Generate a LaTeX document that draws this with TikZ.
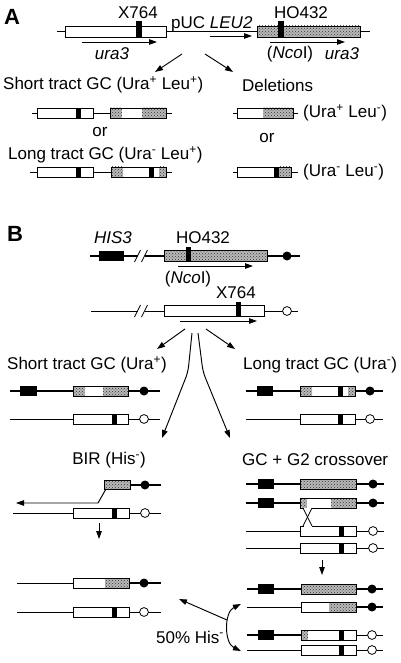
\documentclass[tikz,border=0pt]{standalone}
\usepackage{fontspec}
\setmainfont{Liberation Sans}
\usetikzlibrary{arrows.meta,patterns}
\newcommand\wbox[4]{\filldraw[boxst] (#1,#2) rectangle (#3,#4);}
\newcommand\hatchpart[4]{\path[hatchfill] (#1,#2) rectangle (#3,#4);}
\newcommand\blk[4]{\fill (#1,#2) rectangle (#3,#4);}
\newcommand\outl[4]{\draw[boxedge] (#1,#2) rectangle (#3,#4);}
\newcommand\fcirc[2]{\fill (#1,#2) circle (4.5pt);}
\newcommand\ocirc[2]{\filldraw[fill=white,line width=0.8pt] (#1,#2) circle (4.4pt);}
\begin{document}
\begin{tikzpicture}[x=1pt,y=-1pt,
  lbl/.style={inner sep=0pt, font=\fontsize{17}{20}\selectfont},
  panel/.style={inner sep=0pt, font=\fontsize{22}{24}\selectfont\bfseries},
  thinchr/.style={line width=0.9pt},
  thickchr/.style={line width=2.8pt},
  boxst/.style={fill=white, line width=0.8pt},
  boxedge/.style={line width=0.8pt},
  hatchfill/.style={fill=gray!55, postaction={pattern=crosshatch dots, pattern color=gray!40!black}},
  arr/.style={line width=0.95pt, -{Triangle[length=8pt,width=5.5pt]}},
  dblarr/.style={line width=0.95pt, {Triangle[length=8pt,width=5.5pt]}-{Triangle[length=8pt,width=5.5pt]}},
  brk/.style={line width=0.8pt}
]
\useasboundingbox (0,0) rectangle (400,663);
\fill[white] (0,0) rectangle (400,663);

%% ---------------- Panel A ----------------
\node[panel] (pA) at (12,17) {A};
\draw[thinchr] (57,31.5) -- (370,31.5);
\wbox{65}{26}{166}{37}
\blk{136}{21}{142}{37}
\wbox{257}{26}{360}{37}
\hatchpart{257}{26}{360}{37}
\outl{257}{26}{360}{37}
\blk{278}{21}{284}{37}
\node[lbl] (xa) at (138,13) {X764};
\node[lbl] (hoa) at (301,13) {HO432};
\node[lbl,anchor=west] (puc) at (171,24) {pUC \textit{LEU2}};
\coordinate (leuS) at (210,36); \coordinate (leuE) at (252,36);
\draw[arr] (leuS) -- (leuE);
\coordinate (ua1) at (82,42); \coordinate (ua2) at (157,42);
\draw[arr] (ua1) -- (ua2);
\coordinate (ub1) at (270,42); \coordinate (ub2) at (345,42);
\draw[arr] (ub1) -- (ub2);
\node[lbl] (uraL) at (112,54) {\textit{ura3}};
\node[lbl] (ncoA) at (290,54) {(\textit{Nco}I)};
\node[lbl] (uraR) at (342,54) {\textit{ura3}};
\coordinate (da0) at (182,54); \coordinate (da1) at (155,72);
\coordinate (db0) at (205,54); \coordinate (db1) at (233,72);
\draw[arr] (da0) -- (da1);
\draw[arr] (db0) -- (db1);
\node[lbl,anchor=west] (stA) at (3,85) {Short tract GC (Ura\textsuperscript{+} Leu\textsuperscript{+})};
\node[lbl,anchor=west] (del) at (242,85) {Deletions};
% short tract row
\draw[thinchr] (32,113) -- (172,113);
\wbox{37}{108}{93}{118} \blk{76}{108}{81}{118}
\wbox{110}{108}{166}{118}
\hatchpart{110}{108}{122}{118} \hatchpart{142}{108}{166}{118}
\outl{110}{108}{166}{118}
\node[lbl] (orL) at (100,132) {or};
\node[lbl,anchor=west] (ltA) at (8,155) {Long tract GC (Ura\textsuperscript{-} Leu\textsuperscript{+})};
% long tract row
\draw[thinchr] (30,172) -- (172,172);
\wbox{37}{167}{93}{177} \blk{76}{167}{81}{177}
\wbox{111}{167}{166}{177}
\hatchpart{111}{167}{123}{177} \hatchpart{159}{167}{166}{177}
\blk{149}{167}{154}{177}
\outl{111}{167}{166}{177}
% deletions
\draw[thinchr] (233,113) -- (298,113);
\wbox{237}{108}{293}{118}
\hatchpart{263}{108}{293}{118}
\outl{237}{108}{293}{118}
\node[lbl,anchor=west] (d1) at (303,113) {(Ura\textsuperscript{+} Leu\textsuperscript{-})};
\node[lbl] (orR) at (267,138) {or};
\draw[thinchr] (233,172) -- (298,172);
\wbox{237}{167}{291}{177}
\hatchpart{279}{167}{291}{177}
\blk{274}{167}{279}{177}
\outl{237}{167}{291}{177}
\node[lbl,anchor=west] (d2) at (303,172) {(Ura\textsuperscript{-} Leu\textsuperscript{-})};

%% ---------------- Panel B ----------------
\node[panel] (pB) at (15,234) {B};
\node[lbl] (his) at (113,238) {\textit{HIS3}};
\node[lbl] (hob) at (203,238) {HO432};
% donor chromosome
\draw[thickchr] (90,256) -- (137.5,256);
\draw[thickchr] (144.5,256) -- (300,256);
\draw[brk] (134.5,262) -- (140.5,250);
\draw[brk] (141.5,262) -- (147.5,250);
\blk{99}{251}{124}{261}
\wbox{164}{250}{267}{261}
\hatchpart{164}{250}{267}{261}
\outl{164}{250}{267}{261}
\blk{186}{247}{191}{261}
\fcirc{287}{256}
\coordinate (nb1) at (178,266); \coordinate (nb2) at (253,266);
\draw[arr] (nb1) -- (nb2);
\node[lbl] (ncoB) at (188,279) {(\textit{Nco}I)};
\node[lbl] (xb) at (236,293) {X764};
% recipient chromosome
\draw[thinchr] (91,311) -- (137.5,311);
\draw[thinchr] (144.5,311) -- (298,311);
\draw[brk] (134.5,317) -- (140.5,305);
\draw[brk] (141.5,317) -- (147.5,305);
\wbox{164}{305}{264}{316}
\blk{236}{302}{241}{316}
\ocirc{287}{311}
\coordinate (xb1) at (180,321); \coordinate (xb2) at (257,321);
\draw[arr] (xb1) -- (xb2);
% four outcome arrows
\coordinate (o1a) at (185,329); \coordinate (o1b) at (157,349);
\coordinate (o2a) at (206,329); \coordinate (o2b) at (235,349);
\draw[arr] (o1a) -- (o1b);
\draw[arr] (o2a) -- (o2b);
\coordinate (c1a) at (192,333); \coordinate (c1m) at (188,372); \coordinate (c1b) at (162,438);
\coordinate (c2a) at (198,333); \coordinate (c2m) at (203,372); \coordinate (c2b) at (230,438);
\draw[arr,rounded corners=6pt] (c1a) -- (c1m) -- (c1b);
\draw[arr,rounded corners=6pt] (c2a) -- (c2m) -- (c2b);
\node[lbl,anchor=west] (stB) at (7,365) {Short tract GC (Ura\textsuperscript{+})};
\node[lbl,anchor=west] (ltB) at (243,365) {Long tract GC (Ura\textsuperscript{-})};
% short tract B
\draw[thickchr] (10,391) -- (160,391);
\blk{20}{386}{37}{396}
\wbox{73}{386}{128}{396}
\hatchpart{73}{386}{85}{396} \hatchpart{103}{386}{128}{396}
\outl{73}{386}{128}{396}
\fcirc{144}{391}
\draw[thinchr] (10,419) -- (160,419);
\wbox{73}{414}{128}{424} \blk{112}{414}{117}{424}
\ocirc{144}{419}
% long tract B
\draw[thickchr] (246,391) -- (383,391);
\blk{257}{386}{273}{396}
\wbox{300}{386}{355}{396}
\hatchpart{300}{386}{312}{396} \hatchpart{348}{386}{355}{396}
\blk{338}{386}{343}{396}
\outl{300}{386}{355}{396}
\fcirc{370}{391}
\draw[thinchr] (246,419) -- (383,419);
\wbox{300}{414}{355}{424} \blk{338}{414}{343}{424}
\ocirc{370}{419}
% BIR
\node[lbl] (bir) at (109,460) {BIR (His\textsuperscript{-})};
\node[lbl,anchor=west] (gcx) at (242,460) {GC + G2 crossover};
\draw[thickchr] (130,485) -- (161,485);
\wbox{104}{480}{130}{489}
\hatchpart{104}{480}{130}{489}
\outl{104}{480}{130}{489}
\fcirc{145}{485}
\coordinate (bi0) at (106,489); \coordinate (bi1) at (98,503); \coordinate (bi2) at (16,503);
\draw[arr] (bi0) -- (bi1) -- (bi2);
\draw[thinchr] (13,513) -- (161,513);
\wbox{73}{508}{129}{518} \blk{112}{508}{117}{518}
\ocirc{145}{513}
\coordinate (bd1) at (99,523); \coordinate (bd2) at (99,539);
\draw[arr] (bd1) -- (bd2);
% BIR result
\draw[thinchr] (17,583) -- (73,583);
\draw[thickchr] (129,583) -- (161,583);
\wbox{73}{578}{129}{588}
\hatchpart{105}{578}{129}{588}
\outl{73}{578}{129}{588}
\fcirc{144}{583}
\draw[thinchr] (17,612) -- (161,612);
\wbox{73}{607}{129}{617} \blk{112}{607}{117}{617}
\ocirc{144}{612}
% GC + G2 crossover
\draw[thickchr] (246,484) -- (384,484);
\blk{258}{479}{274}{489}
\wbox{300}{479}{356}{489}
\hatchpart{300}{479}{356}{489}
\outl{300}{479}{356}{489}
\fcirc{373}{484}
\draw[thickchr] (246,503) -- (384,503);
\blk{258}{498}{274}{508}
\wbox{300}{498}{356}{508}
\hatchpart{300}{498}{307}{508} \hatchpart{331}{498}{356}{508}
\outl{300}{498}{356}{508}
\fcirc{373}{503}
\draw[thinchr] (246,531) -- (384,531);
\wbox{300}{526}{356}{536} \blk{339}{526}{344}{536}
\ocirc{373}{531}
\draw[thinchr] (246,548) -- (384,548);
\wbox{300}{543}{356}{553} \blk{339}{543}{344}{553}
\ocirc{373}{548}
\coordinate (x1a) at (303,508); \coordinate (x1b) at (312,526);
\coordinate (x2a) at (312,508); \coordinate (x2b) at (303,526);
\fill[white] (303.5,507.6) rectangle (311.5,508.4);
\fill[white] (303.5,525.6) rectangle (311.5,526.4);
\draw[line width=0.8pt] (x1a) -- (x1b);
\draw[line width=0.8pt] (x2a) -- (x2b);
\coordinate (gd1) at (322,560); \coordinate (gd2) at (322,575);
\draw[arr] (gd1) -- (gd2);
% GC result
\draw[thickchr] (247,589) -- (383,589);
\blk{258}{584}{274}{594}
\wbox{301}{584}{356}{594}
\hatchpart{301}{584}{356}{594}
\outl{301}{584}{356}{594}
\fcirc{372}{589}
\draw[thinchr] (247,607) -- (301,607);
\draw[thickchr] (356,607) -- (383,607);
\wbox{301}{602}{356}{612}
\hatchpart{329}{602}{356}{612}
\outl{301}{602}{356}{612}
\fcirc{372}{607}
\draw[thickchr] (247,635) -- (301,635);
\draw[thinchr] (356,635) -- (383,635);
\blk{258}{630}{274}{640}
\wbox{301}{630}{356}{640}
\hatchpart{301}{630}{308}{640}
\blk{339}{630}{344}{640}
\outl{301}{630}{356}{640}
\ocirc{372}{635}
\draw[thinchr] (247,650) -- (383,650);
\wbox{301}{645}{356}{655} \blk{339}{645}{344}{655}
\ocirc{372}{650}
% 50% His-
\coordinate (cu1) at (241,604); \coordinate (cu2) at (241,651);
\draw[dblarr] (cu1) .. controls (224,612) and (224,643) .. (cu2);
\coordinate (h0) at (227,620); \coordinate (h1) at (179,599);
\draw[arr] (h0) -- (h1);
\node[lbl] (his50) at (190,637) {50\% His\textsuperscript{-}};
\end{tikzpicture}
\end{document}
